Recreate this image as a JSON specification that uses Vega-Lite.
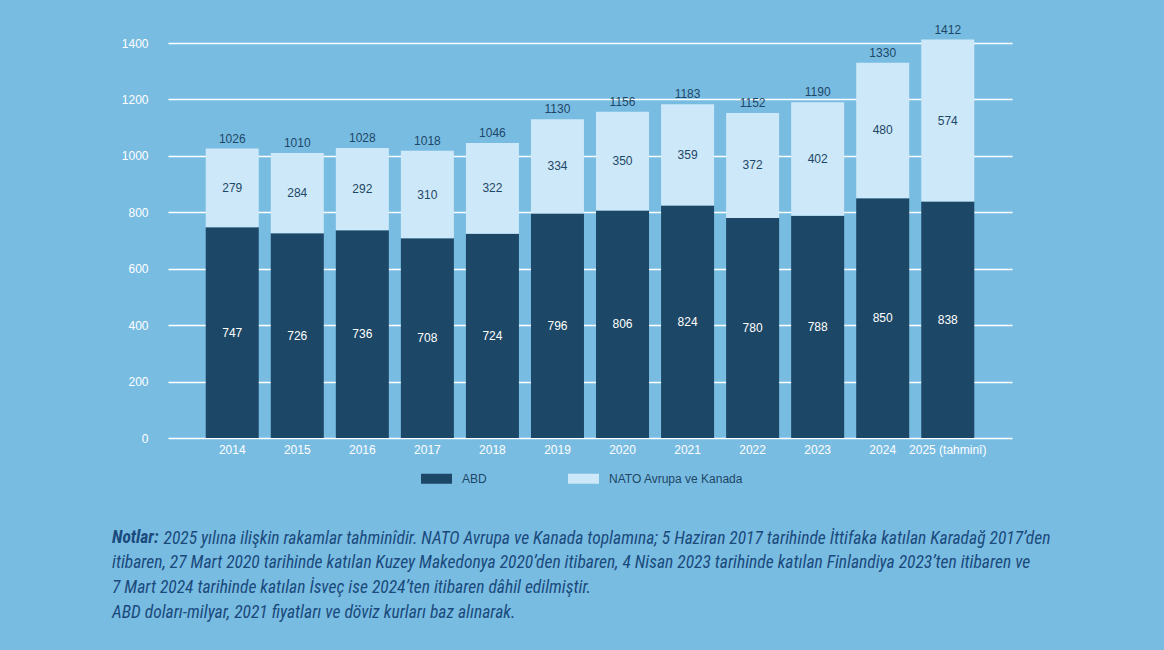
{
  "$schema": "https://vega.github.io/schema/vega-lite/v6.json",
  "width": 844,
  "height": 395,
  "autosize": {"type": "none"},
  "padding": {"left": 168, "top": 43, "right": 152, "bottom": 212},
  "background": "#79BCE2",
  "config": {
    "view": {"stroke": null},
    "font": "Liberation Sans",
    "axisX": {"labelColor": "white", "labelFontSize": 12, "labelAngle": 0, "ticks": false, "domain": false, "labelPadding": 6, "grid": false},
    "axisY": {"labelColor": "white", "labelFontSize": 12, "ticks": false, "domain": false, "labelPadding": 20, "gridColor": "white", "gridWidth": 1.5, "gridOpacity": 1, "format": "d"}
  },
  "datasets": {
    "bars": [
      {"year": "2014", "grup": "ABD", "value": 747}, {"year": "2014", "grup": "NATO Avrupa ve Kanada", "value": 279},
      {"year": "2015", "grup": "ABD", "value": 726}, {"year": "2015", "grup": "NATO Avrupa ve Kanada", "value": 284},
      {"year": "2016", "grup": "ABD", "value": 736}, {"year": "2016", "grup": "NATO Avrupa ve Kanada", "value": 292},
      {"year": "2017", "grup": "ABD", "value": 708}, {"year": "2017", "grup": "NATO Avrupa ve Kanada", "value": 310},
      {"year": "2018", "grup": "ABD", "value": 724}, {"year": "2018", "grup": "NATO Avrupa ve Kanada", "value": 322},
      {"year": "2019", "grup": "ABD", "value": 796}, {"year": "2019", "grup": "NATO Avrupa ve Kanada", "value": 334},
      {"year": "2020", "grup": "ABD", "value": 806}, {"year": "2020", "grup": "NATO Avrupa ve Kanada", "value": 350},
      {"year": "2021", "grup": "ABD", "value": 824}, {"year": "2021", "grup": "NATO Avrupa ve Kanada", "value": 359},
      {"year": "2022", "grup": "ABD", "value": 780}, {"year": "2022", "grup": "NATO Avrupa ve Kanada", "value": 372},
      {"year": "2023", "grup": "ABD", "value": 788}, {"year": "2023", "grup": "NATO Avrupa ve Kanada", "value": 402},
      {"year": "2024", "grup": "ABD", "value": 850}, {"year": "2024", "grup": "NATO Avrupa ve Kanada", "value": 480},
      {"year": "2025 (tahminî)", "grup": "ABD", "value": 838}, {"year": "2025 (tahminî)", "grup": "NATO Avrupa ve Kanada", "value": 574}
    ],
    "totals": [
      {"year": "2014", "total": 1026}, {"year": "2015", "total": 1010}, {"year": "2016", "total": 1028},
      {"year": "2017", "total": 1018}, {"year": "2018", "total": 1046}, {"year": "2019", "total": 1130},
      {"year": "2020", "total": 1156}, {"year": "2021", "total": 1183}, {"year": "2022", "total": 1152},
      {"year": "2023", "total": 1190}, {"year": "2024", "total": 1330}, {"year": "2025 (tahminî)", "total": 1412}
    ]
  },
  "title": {
    "text": "Notlar:",
    "subtitle": [
      "itibaren, 27 Mart 2020 tarihinde katılan Kuzey Makedonya 2020’den itibaren, 4 Nisan 2023 tarihinde katılan Finlandiya 2023’ten itibaren ve",
      "7 Mart 2024 tarihinde katılan İsveç ise 2024’ten itibaren dâhil edilmiştir.",
      "ABD doları-milyar, 2021 fiyatları ve döviz kurları baz alınarak."
    ],
    "orient": "bottom",
    "anchor": "start",
    "frame": "group",
    "dx": -56,
    "offset": -18,
    "font": "Roboto Condensed, DejaVu Sans Condensed, Roboto",
    "fontSize": 17.5,
    "fontStyle": "italic",
    "fontWeight": "bold",
    "color": "#1A4A7C",
    "subtitleFont": "Roboto Condensed, DejaVu Sans Condensed, Roboto",
    "subtitleFontSize": 17.5,
    "subtitleFontStyle": "italic",
    "subtitleFontWeight": "normal",
    "subtitleColor": "#1A4A7C",
    "subtitleLineHeight": 25,
    "subtitlePadding": 7.5
  },
  "encoding": {
    "x": {"field": "year", "type": "nominal",
          "title": "2025 yılına ilişkin rakamlar tahminîdir. NATO Avrupa ve Kanada toplamına; 5 Haziran 2017 tarihinde İttifaka katılan Karadağ 2017’den",
          "axis": {"titleX": -5, "titleY": 105, "titleAlign": "left", "titleAnchor": "start", "titleBaseline": "alphabetic",
                   "titleFont": "Roboto Condensed, DejaVu Sans Condensed, Roboto", "titleFontSize": 17.5, "titleFontStyle": "italic",
                   "titleFontWeight": "normal", "titleColor": "#1A4A7C", "titlePadding": 0}}
  },
  "layer": [
    {
      "data": {"name": "bars"},
      "mark": {"type": "bar"},
      "encoding": {
        "x": {"field": "year", "type": "nominal", "scale": {"paddingInner": 0.185, "paddingOuter": 0.58}},
        "y": {"field": "value", "type": "quantitative", "stack": "zero", "title": null,
              "scale": {"domain": [0, 1400], "nice": false},
              "axis": {"values": [0, 200, 400, 600, 800, 1000, 1200, 1400]}},
        "color": {"field": "grup", "type": "nominal", "title": null,
                  "scale": {"domain": ["ABD", "NATO Avrupa ve Kanada"], "range": ["#1D4766", "#CDE8F8"]},
                  "legend": {"orient": "none", "direction": "horizontal", "legendX": 253, "legendY": 420,
                             "symbolType": "M-1,-0.3226H1V0.3226H-1Z", "symbolSize": 961, "symbolStrokeWidth": 0, "symbolOpacity": 1,
                             "labelColor": "#1D4766", "labelFontSize": 12, "labelOffset": 10, "columnPadding": 81, "padding": 0}},
        "order": {"field": "grup", "sort": "ascending"}
      }
    },
    {
      "data": {"name": "bars"},
      "transform": [
        {"stack": "value", "groupby": ["year"], "sort": [{"field": "grup", "order": "ascending"}], "as": ["v0", "v1"]},
        {"calculate": "(datum.v0 + datum.v1) / 2", "as": "mid"}
      ],
      "mark": {"type": "text", "fontSize": 12, "baseline": "middle"},
      "encoding": {
        "y": {"field": "mid", "type": "quantitative", "title": null},
        "text": {"field": "value", "type": "quantitative"},
        "color": {"condition": {"test": "datum.grup === 'ABD'", "value": "white"}, "value": "#1D4766"}
      }
    },
    {
      "data": {"name": "totals"},
      "mark": {"type": "text", "fontSize": 12, "baseline": "bottom", "dy": -3, "color": "#1D4766"},
      "encoding": {
        "y": {"field": "total", "type": "quantitative", "title": null},
        "text": {"field": "total", "type": "quantitative"}
      }
    }
  ]
}
